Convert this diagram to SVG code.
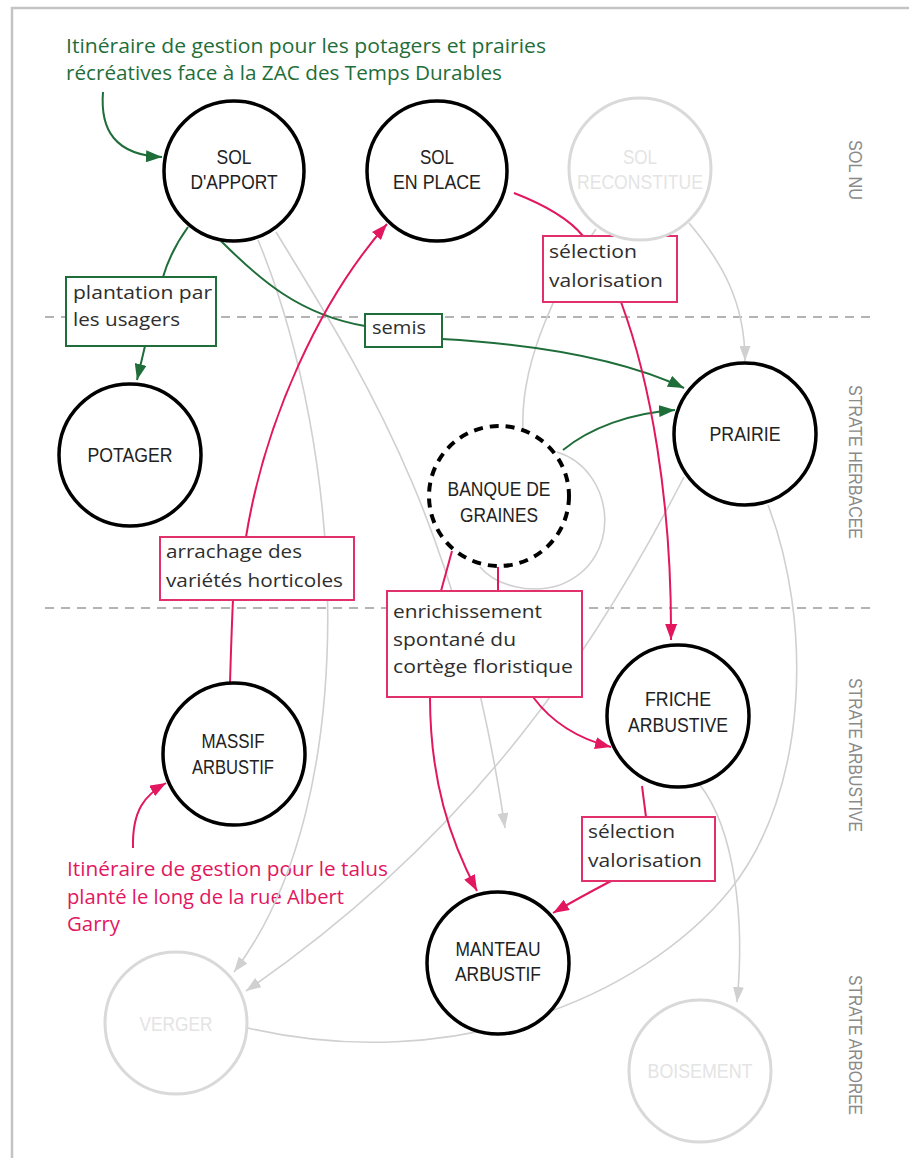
<svg xmlns="http://www.w3.org/2000/svg" width="909" height="1158" viewBox="0 0 909 1158">
<style>
.bg{fill:#fff}
.frame{fill:none;stroke:#c4c4c4;stroke-width:2.5}
.sep{fill:none;stroke:#b3b3b3;stroke-width:2;stroke-dasharray:9 7}
.side{font-family:"Liberation Sans",Arial,sans-serif;font-size:19px;fill:#8a8a8a}
.node{fill:#fff;stroke:#000;stroke-width:3.5}
.ghost{fill:#fff;stroke:#d9d9d9;stroke-width:3}
.dash{fill:#fff;stroke:#000;stroke-width:4;stroke-dasharray:9 7}
.nt{font-family:"Liberation Sans",Arial,sans-serif;font-size:20px;fill:#222;text-anchor:middle}
.gt{font-family:"Liberation Sans",Arial,sans-serif;font-size:20px;fill:#e4e4e4;text-anchor:middle}
.g{fill:none;stroke:#1f6e3a;stroke-width:2}
.p{fill:none;stroke:#e2175f;stroke-width:2}
.l{fill:none;stroke:#d0d0d0;stroke-width:1.6}
.bg-box{fill:#fff;stroke:#1f6e3a;stroke-width:2}
.bp-box{fill:#fff;stroke:#e2306b;stroke-width:2}
.lt{font-family:"Open Sans","Noto Sans",sans-serif;font-size:19px;fill:#2e2e2e}
.ann-g{font-family:"Open Sans","Noto Sans",sans-serif;font-size:20px;fill:#1f6e3a}
.ann-p{font-family:"Open Sans","Noto Sans",sans-serif;font-size:20px;fill:#e2175f}
</style>
<defs>
<marker id="ag" markerUnits="userSpaceOnUse" markerWidth="16" markerHeight="12" refX="16" refY="6" orient="auto"><path d="M0,0 L16,6 L0,12 z" fill="#1f6e3a"/></marker>
<marker id="ap" markerUnits="userSpaceOnUse" markerWidth="16" markerHeight="12" refX="16" refY="6" orient="auto"><path d="M0,0 L16,6 L0,12 z" fill="#e2175f"/></marker>
<marker id="al" markerUnits="userSpaceOnUse" markerWidth="15" markerHeight="11" refX="15" refY="5.5" orient="auto"><path d="M0,0 L15,5.5 L0,11 z" fill="#d0d0d0"/></marker>
</defs>
<rect class="bg" x="0" y="0" width="909" height="1158"/>
<path class="frame" d="M12 1158 L12 8 L909 8"/>

<g id="separators">
<line class="sep" x1="45" y1="317" x2="872" y2="317"/>
<line class="sep" x1="45" y1="608" x2="872" y2="608"/>
</g>

<g id="strata-labels">
<text class="side" transform="translate(849,170) rotate(90)" text-anchor="middle" textLength="60" lengthAdjust="spacingAndGlyphs">SOL NU</text>
<text class="side" transform="translate(849,462) rotate(90)" text-anchor="middle" textLength="154" lengthAdjust="spacingAndGlyphs">STRATE HERBACEE</text>
<text class="side" transform="translate(849,755) rotate(90)" text-anchor="middle" textLength="154" lengthAdjust="spacingAndGlyphs">STRATE ARBUSTIVE</text>
<text class="side" transform="translate(849,1045) rotate(90)" text-anchor="middle" textLength="140" lengthAdjust="spacingAndGlyphs">STRATE ARBOREE</text>
</g>

<g id="annotations">
<text class="ann-g" x="66" y="53" textLength="480" lengthAdjust="spacingAndGlyphs">Itinéraire de gestion pour les potagers et prairies</text>
<text class="ann-g" x="66" y="80" textLength="436" lengthAdjust="spacingAndGlyphs">récréatives face à la ZAC des Temps Durables</text>
<text class="ann-p" x="67" y="876" textLength="321" lengthAdjust="spacingAndGlyphs">Itinéraire de gestion pour le talus</text>
<text class="ann-p" x="67" y="904" textLength="277" lengthAdjust="spacingAndGlyphs">planté le long de la rue Albert</text>
<text class="ann-p" x="67" y="931" textLength="53" lengthAdjust="spacingAndGlyphs">Garry</text>
</g>

<g id="connectors">
<!-- gray -->
<path class="l" d="M689 223 C720 260 745 300 745 361" marker-end="url(#al)"/>
<path class="l" d="M596 229 C560 280 520 360 523 429"/>
<path class="l" d="M557 452 C615 470 625 560 560 585 C530 595 495 585 480 567"/>
<path class="l" d="M258 240 C345 450 365 800 234 972" marker-end="url(#al)"/>
<path class="l" d="M276 232 C360 370 460 520 505 828" marker-end="url(#al)"/>
<path class="l" d="M684 477 C600 640 480 830 246 991" marker-end="url(#al)"/>
<path class="l" d="M768 505 C812 620 810 790 730 890 C640 1000 450 1075 248 1028"/>
<path class="l" d="M700 785 C735 830 745 920 737 1002" marker-end="url(#al)"/>
<!-- green -->
<path class="g" d="M103 92 C100 130 115 155 162 157" marker-end="url(#ag)"/>
<path class="g" d="M188 227 C175 245 168 260 163 277"/>
<path class="g" d="M145 346 L137 380" marker-end="url(#ag)"/>
<path class="g" d="M221 241 C260 280 300 315 365 326"/>
<path class="g" d="M442 339 C530 344 620 358 684 388" marker-end="url(#ag)"/>
<path class="g" d="M563 450 C590 428 630 413 675 410" marker-end="url(#ag)"/>
<!-- pink -->
<path class="p" d="M133 848 C132 810 145 795 166 783" marker-end="url(#ap)"/>
<path class="p" d="M230 683 C231 650 232 620 233 600"/>
<path class="p" d="M246 537 C265 420 320 300 387 224" marker-end="url(#ap)"/>
<path class="p" d="M514 193 C545 205 570 220 583 236"/>
<path class="p" d="M621 302 C650 380 672 500 671 640" marker-end="url(#ap)"/>
<path class="p" d="M452 551 L441 591"/>
<path class="p" d="M498 567 L498 591"/>
<path class="p" d="M430 697 C430 780 450 840 477 891" marker-end="url(#ap)"/>
<path class="p" d="M533 697 C550 720 575 738 611 747" marker-end="url(#ap)"/>
<path class="p" d="M642 786 L646 817"/>
<path class="p" d="M611 881 C590 892 570 903 553 913" marker-end="url(#ap)"/>
</g>

<g id="label-plantation">
<rect class="bg-box" x="66" y="277" width="150" height="69"/>
<text class="lt" x="73" y="299" textLength="139" lengthAdjust="spacingAndGlyphs">plantation par</text>
<text class="lt" x="73" y="326" textLength="107" lengthAdjust="spacingAndGlyphs">les usagers</text>
</g>
<g id="label-semis">
<rect class="bg-box" x="365" y="314" width="77" height="33"/>
<text class="lt" x="372" y="334" textLength="54" lengthAdjust="spacingAndGlyphs">semis</text>
</g>
<g id="label-selection-1">
<rect class="bp-box" x="543" y="236" width="134" height="66"/>
<text class="lt" x="549" y="258" textLength="88" lengthAdjust="spacingAndGlyphs">sélection</text>
<text class="lt" x="549" y="287" textLength="114" lengthAdjust="spacingAndGlyphs">valorisation</text>
</g>
<g id="label-arrachage">
<rect class="bp-box" x="160" y="537" width="194" height="63"/>
<text class="lt" x="166" y="558" textLength="136" lengthAdjust="spacingAndGlyphs">arrachage des</text>
<text class="lt" x="166" y="587" textLength="177" lengthAdjust="spacingAndGlyphs">variétés horticoles</text>
</g>
<g id="label-enrichissement">
<rect class="bp-box" x="387" y="591" width="195" height="106"/>
<text class="lt" x="393" y="618" textLength="149" lengthAdjust="spacingAndGlyphs">enrichissement</text>
<text class="lt" x="393" y="646" textLength="123" lengthAdjust="spacingAndGlyphs">spontané du</text>
<text class="lt" x="393" y="673" textLength="180" lengthAdjust="spacingAndGlyphs">cortège floristique</text>
</g>
<g id="label-selection-2">
<rect class="bp-box" x="582" y="817" width="133" height="64"/>
<text class="lt" x="588" y="838" textLength="87" lengthAdjust="spacingAndGlyphs">sélection</text>
<text class="lt" x="588" y="867" textLength="114" lengthAdjust="spacingAndGlyphs">valorisation</text>
</g>

<g id="node-sol-apport">
<circle class="node" cx="234" cy="171" r="70"/>
<text class="nt" x="234" y="164" textLength="35" lengthAdjust="spacingAndGlyphs">SOL</text>
<text class="nt" x="234" y="189" textLength="87" lengthAdjust="spacingAndGlyphs">D'APPORT</text>
</g>
<g id="node-sol-en-place">
<circle class="node" cx="437" cy="171" r="70"/>
<text class="nt" x="437" y="164" textLength="34" lengthAdjust="spacingAndGlyphs">SOL</text>
<text class="nt" x="437" y="189" textLength="88" lengthAdjust="spacingAndGlyphs">EN PLACE</text>
</g>
<g id="node-sol-reconstitue">
<circle class="ghost" cx="640" cy="169" r="71"/>
<text class="gt" x="640" y="164" textLength="34" lengthAdjust="spacingAndGlyphs">SOL</text>
<text class="gt" x="640" y="189" textLength="126" lengthAdjust="spacingAndGlyphs">RECONSTITUE</text>
</g>
<g id="node-potager">
<circle class="node" cx="130" cy="455" r="71"/>
<text class="nt" x="130" y="462" textLength="85" lengthAdjust="spacingAndGlyphs">POTAGER</text>
</g>
<g id="node-prairie">
<circle class="node" cx="745" cy="434" r="71"/>
<text class="nt" x="745" y="441" textLength="71" lengthAdjust="spacingAndGlyphs">PRAIRIE</text>
</g>
<g id="node-banque">
<circle class="dash" cx="499" cy="496" r="70"/>
<text class="nt" x="499" y="496" textLength="103" lengthAdjust="spacingAndGlyphs">BANQUE DE</text>
<text class="nt" x="499" y="522" textLength="78" lengthAdjust="spacingAndGlyphs">GRAINES</text>
</g>
<g id="node-friche">
<circle class="node" cx="678" cy="716" r="71"/>
<text class="nt" x="678" y="706" textLength="66" lengthAdjust="spacingAndGlyphs">FRICHE</text>
<text class="nt" x="678" y="732" textLength="100" lengthAdjust="spacingAndGlyphs">ARBUSTIVE</text>
</g>
<g id="node-massif">
<circle class="node" cx="234" cy="754" r="71"/>
<text class="nt" x="233" y="748" textLength="63" lengthAdjust="spacingAndGlyphs">MASSIF</text>
<text class="nt" x="233" y="774" textLength="82" lengthAdjust="spacingAndGlyphs">ARBUSTIF</text>
</g>
<g id="node-manteau">
<circle class="node" cx="498" cy="963" r="71"/>
<text class="nt" x="498" y="956" textLength="85" lengthAdjust="spacingAndGlyphs">MANTEAU</text>
<text class="nt" x="498" y="981" textLength="86" lengthAdjust="spacingAndGlyphs">ARBUSTIF</text>
</g>
<g id="node-verger">
<circle class="ghost" cx="176" cy="1023" r="71"/>
<text class="gt" x="176" y="1031" textLength="73" lengthAdjust="spacingAndGlyphs">VERGER</text>
</g>
<g id="node-boisement">
<circle class="ghost" cx="700" cy="1071" r="71"/>
<text class="gt" x="700" y="1078" textLength="105" lengthAdjust="spacingAndGlyphs">BOISEMENT</text>
</g>
</svg>
